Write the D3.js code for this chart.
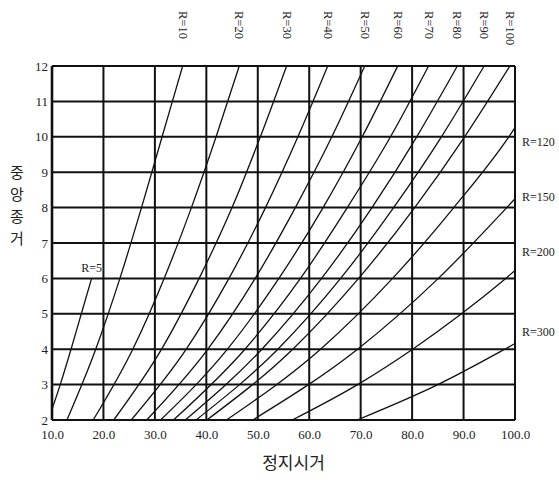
<!DOCTYPE html>
<html>
<head>
<meta charset="utf-8">
<script src="https://cdn.jsdelivr.net/npm/d3@7"></script>
<style>
  body { margin: 0; background: #fff; }
  svg { display: block; }
</style>
</head>
<body>
<div id="chart"></div>
<script>
// stopping sight distance (x) vs middle ordinate (y), one curve per radius R
const xTicks = [10, 20, 30, 40, 50, 60, 70, 80, 90, 100];
const yTicks = [2, 3, 4, 5, 6, 7, 8, 9, 10, 11, 12];

// [distance, ordinate]
const r5 = [[10, 2.3], [11.6, 3], [13.7, 4], [15.7, 5], [17.7, 6]];
const r10 = [[12.9, 2], [18.5, 4], [23.2, 6], [27.4, 8], [31.4, 10], [35.4, 12]];
const r20 = [[18.0, 2], [25.7, 4], [31.8, 6], [37.1, 8], [41.9, 10], [46.4, 12]];
const r30 = [[22.0, 2], [31.3, 4], [38.6, 6], [45.0, 8], [50.5, 10], [55.6, 12]];
const r40 = [[25.4, 2], [36.1, 4], [44.4, 6], [51.5, 8], [57.8, 10], [63.6, 12]];
const r50 = [[28.4, 2], [40.3, 4], [49.5, 6], [57.3, 8], [64.4, 10], [70.8, 12]];
const r60 = [[31.1, 2], [44.1, 4], [54.1, 6], [62.7, 8], [70.3, 10], [77.2, 12]];
const r70 = [[33.6, 2], [47.5, 4], [58.3, 6], [67.4, 8], [75.8, 10], [83.2, 12]];
const r80 = [[35.9, 2], [50.8, 4], [62.4, 6], [72.2, 8], [80.9, 10], [88.8, 12]];
const r90 = [[38.0, 2], [53.9, 4], [66.1, 6], [76.4, 8], [85.7, 10], [94.0, 12]];
const r100 = [[40.1, 2], [56.8, 4], [69.6, 6], [80.5, 8], [90.2, 10], [99.0, 12]];
const r120 = [[43.9, 2], [62.2, 4], [76.2, 6], [88.1, 8], [98.8, 10], [100, 10.26]];
const r150 = [[49.0, 2], [69.4, 4], [85.1, 6], [98.4, 8], [100, 8.25]];
const r200 = [[56.7, 2], [69.4, 3], [80.1, 4], [89.6, 5], [98.2, 6], [100, 6.22]];
const r300 = [[69.3, 2], [85.0, 3], [98.0, 4], [100, 4.16]];

const topRadii = [10, 20, 30, 40, 50, 60, 70, 80, 90, 100];
const sideRadii = [120, 150, 200, 300];
const sideLabelY = [9.85, 8.3, 6.75, 4.5];

const curves = [
    { r: 5, pts: r5 }, { r: 10, pts: r10 }, { r: 20, pts: r20 }, { r: 30, pts: r30 },
    { r: 40, pts: r40 }, { r: 50, pts: r50 }, { r: 60, pts: r60 }, { r: 70, pts: r70 },
    { r: 80, pts: r80 }, { r: 90, pts: r90 }, { r: 100, pts: r100 }, { r: 120, pts: r120 },
    { r: 150, pts: r150 }, { r: 200, pts: r200 }, { r: 300, pts: r300 }
];

const width = 559, height = 484;
const margin = { top: 66, right: 44, bottom: 64, left: 52 };

const svg = d3.select('#chart')
    .append('svg')
    .attr('width', width)
    .attr('height', height);

const x = d3.scaleLinear().domain([10, 100]).range([margin.left, width - margin.right]);
const y = d3.scaleLinear().domain([2, 12]).range([height - margin.bottom, margin.top]);

const serif = '"Liberation Serif", "DejaVu Serif", serif';
const gridColor = '#111';

// grid
svg.append('g')
    .selectAll('line')
    .data(xTicks)
    .enter()
    .append('line')
    .attr('x1', (d) => x(d)).attr('x2', (d) => x(d))
    .attr('y1', y(2)).attr('y2', y(12))
    .attr('stroke', gridColor)
    .attr('stroke-width', (d) => (d === 10 ? 2.6 : 2));

svg.append('g')
    .selectAll('line')
    .data(yTicks)
    .enter()
    .append('line')
    .attr('x1', x(10)).attr('x2', x(100))
    .attr('y1', (d) => y(d)).attr('y2', (d) => y(d))
    .attr('stroke', gridColor)
    .attr('stroke-width', 2);

// axes (labels only)
const xAxis = svg.append('g')
    .attr('transform', `translate(0,${y(2)})`)
    .call(d3.axisBottom(x).tickValues(xTicks).tickSize(0).tickPadding(10).tickFormat(d3.format('.1f')));
const yAxis = svg.append('g')
    .attr('transform', `translate(${x(10)},0)`)
    .call(d3.axisLeft(y).tickValues(yTicks).tickSize(0).tickPadding(4).tickFormat(d3.format('d')));

[xAxis, yAxis].forEach((a) => {
    a.select('.domain').remove();
    a.selectAll('text')
        .attr('font-family', serif)
        .attr('font-size', '13px')
        .attr('fill', '#222');
});

// curves
const line = d3.line()
    .x((d) => x(d[0]))
    .y((d) => y(d[1]))
    .curve(d3.curveMonotoneX);

svg.append('g')
    .selectAll('path')
    .data(curves)
    .enter()
    .append('path')
    .attr('d', (d) => line(d.pts))
    .attr('fill', 'none')
    .attr('stroke', '#111')
    .attr('stroke-width', 1.3);

// labels along the top, rotated, above each curve's top end
const curveByR = new Map(curves.map((c) => [c.r, c]));
svg.append('g')
    .selectAll('text')
    .data(topRadii)
    .enter()
    .append('text')
    .attr('transform', (d) => {
        const pts = curveByR.get(d).pts;
        return `translate(${x(pts[pts.length - 1][0]) - 4},11) rotate(90)`;
    })
    .attr('font-family', serif)
    .attr('font-size', '12.5px')
    .attr('fill', '#222')
    .text((d) => `R=${d}`);

// labels at the right side
svg.append('g')
    .selectAll('text')
    .data(sideRadii)
    .enter()
    .append('text')
    .attr('x', x(100) + 7)
    .attr('y', (d, i) => y(sideLabelY[i]) + 4)
    .attr('font-family', serif)
    .attr('font-size', '12px')
    .attr('fill', '#222')
    .text((d) => `R=${d}`);

// R=5 label above its end
svg.append('text')
    .attr('x', x(r5[r5.length - 1][0]))
    .attr('y', y(r5[r5.length - 1][1]) - 6)
    .attr('text-anchor', 'middle')
    .attr('font-family', serif)
    .attr('font-size', '12px')
    .attr('fill', '#222')
    .text('R=5');

// axis titles
const kr = '"Noto Sans CJK KR", "Noto Sans", sans-serif';
svg.append('text')
    .attr('x', (x(10) + x(100)) / 2 + 10)
    .attr('y', 469)
    .attr('text-anchor', 'middle')
    .attr('font-family', kr)
    .attr('font-size', '17px')
    .attr('fill', '#222')
    .text('정지시거');

// vertical title: one upright character per row
svg.append('g')
    .selectAll('text')
    .data('중앙종거'.split(''))
    .enter()
    .append('text')
    .attr('x', 17)
    .attr('y', (d, i) => 178 + i * 22)
    .attr('text-anchor', 'middle')
    .attr('font-family', kr)
    .attr('font-size', '15px')
    .attr('fill', '#222')
    .text((d) => d);
</script>
</body>
</html>
